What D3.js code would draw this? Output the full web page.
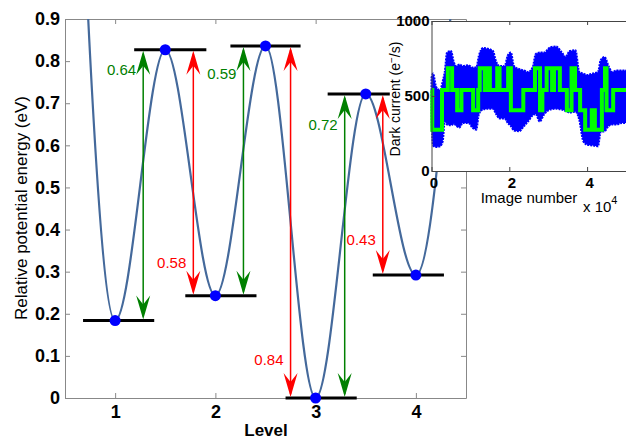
<!DOCTYPE html>
<html>
<head>
<meta charset="utf-8">
<script src="https://cdn.jsdelivr.net/npm/d3@7"></script>
<style>
body { margin: 0; background: #fff; }
svg { display: block; font-family: Arial, "Liberation Sans", sans-serif; }
</style>
</head>
<body>
<svg id="chart" width="626" height="441"></svg>
<script>
// potential profile: wells at integer levels, barriers at half levels
const profileLevel = [0.5, 1, 1.5, 2, 2.5, 3, 3.5, 4, 4.5];
const profileEnergy = [2.2, 0.184, 0.827, 0.243, 0.836, 0, 0.722, 0.292, 1.4];

// states marked with a dot and a black bar
const stateLevel = [1, 1.5, 2, 2.5, 3, 3.5, 4];
const stateEnergy = [0.184, 0.827, 0.243, 0.836, 0, 0.722, 0.292];
const barStart = [0.68, 1.19, 1.70, 2.15, 2.70, 3.12, 3.57];
const barEnd = [1.39, 1.91, 2.41, 2.85, 3.41, 3.74, 4.28];

// transitions between neighbouring states
const arrowLevel = [1.28, 1.78, 2.28, 2.75, 3.29, 3.67];
const arrowLabelEnergy = [0.78, 0.32, 0.77, 0.09, 0.65, 0.375];

const levelTicks = [1, 2, 3, 4];
const energyTicks = [0, 0.1, 0.2, 0.3, 0.4, 0.5, 0.6, 0.7, 0.8, 0.9];

// inset: telegraph signal (image number in units of 1e4)
const stepX = [0, 0.02, 0.27, 0.42, 0.53, 0.66, 0.77, 1.07, 1.20, 1.24, 1.37, 1.41, 1.50, 1.69, 1.75, 1.97, 2.04, 2.36, 2.66, 2.79,
    2.85, 2.96, 3.10, 3.15, 3.30, 3.48, 3.60, 3.69, 3.82, 3.95, 4.12, 4.20, 4.38, 4.46, 4.50, 4.67, 5.0];
const stepLevel = [540, 275, 540, 685, 540, 405, 540, 405, 540, 685, 540, 685, 540, 685, 540, 685, 405, 540, 685, 405,
    540, 685, 540, 685, 540, 405, 685, 540, 405, 275, 405, 275, 540, 685, 405, 540];

// inset: spread of the raw dark current samples
const bandX = [0, 0.04, 0.12, 0.22, 0.29, 0.34, 0.40, 0.50, 0.58, 0.64, 0.72, 0.80, 0.95, 1.05, 1.15, 1.22, 1.32, 1.45, 1.58, 1.66,
    1.75, 1.88, 1.96, 2.04, 2.12, 2.25, 2.38, 2.48, 2.60, 2.68, 2.78, 2.90, 3.05, 3.20, 3.35, 3.45, 3.55, 3.70, 3.80, 3.90,
    4.00, 4.15, 4.28, 4.35, 4.45, 4.55, 4.65, 4.75, 4.90, 5.0];
const bandLo = [360, 170, 160, 165, 200, 330, 310, 305, 315, 300, 290, 320, 320, 290, 275, 380, 410, 415, 415, 380,
    350, 350, 320, 300, 270, 265, 300, 330, 370, 380, 330, 380, 410, 415, 410, 400, 390, 395, 340, 200,
    175, 170, 165, 260, 265, 300, 310, 310, 320, 320];
const bandHi = [620, 650, 560, 540, 600, 660, 790, 800, 720, 700, 710, 700, 705, 690, 690, 770, 820, 815, 800, 730,
    700, 700, 770, 790, 700, 680, 670, 660, 690, 780, 790, 790, 825, 830, 790, 760, 800, 805, 660, 650,
    640, 650, 660, 740, 760, 700, 660, 670, 670, 670];
const insetXTicks = [0, 2, 4];
const insetYTicks = [0, 500, 1000];

const green = '#008000', red = '#ff0000';
const svg = d3.select('#chart');

// ---------- main plot ----------
const x = d3.scaleLinear().domain([0.5, 4.5]).range([65, 466]);
const y = d3.scaleLinear().domain([0, 0.9]).range([398, 19]);

svg.append('clipPath').attr('id', 'mainclip')
    .append('rect').attr('x', 65).attr('y', 19).attr('width', 401).attr('height', 379);

function styleAxis(g, color) {
    g.select('.domain').attr('stroke', color);
    g.selectAll('.tick line').attr('stroke', color);
    g.selectAll('.tick text').attr('fill', '#000')
        .attr('font-family', 'Arial, Liberation Sans, sans-serif')
        .attr('font-weight', 'bold');
}

svg.append('g').attr('transform', 'translate(0,398)')
    .call(d3.axisBottom(x).tickValues(levelTicks).tickSize(-5).tickPadding(7).tickSizeOuter(0).tickFormat(d3.format('d')))
    .call(g => styleAxis(g, '#888'))
    .selectAll('text').attr('font-size', 18);
svg.append('g').attr('transform', 'translate(0,19)')
    .call(d3.axisTop(x).tickValues(levelTicks).tickSize(-5).tickFormat('').tickSizeOuter(0))
    .call(g => styleAxis(g, '#888'));
svg.append('g').attr('transform', 'translate(65,0)')
    .call(d3.axisLeft(y).tickValues(energyTicks).tickSize(-5).tickPadding(5).tickSizeOuter(0).tickFormat(d3.format('~g')))
    .call(g => styleAxis(g, '#888'))
    .selectAll('text').attr('font-size', 18);
svg.append('g').attr('transform', 'translate(466,0)')
    .call(d3.axisRight(y).tickValues(energyTicks).tickSize(-5).tickFormat('').tickSizeOuter(0))
    .call(g => styleAxis(g, '#888'));

// potential curve
const curve = d3.line()
    .x((d, i) => x(profileLevel[i]))
    .y(d => y(d))
    .curve(d3.curveMonotoneX);
svg.append('path')
    .attr('clip-path', 'url(#mainclip)')
    .attr('d', curve(profileEnergy))
    .attr('fill', 'none')
    .attr('stroke', '#44699b')
    .attr('stroke-width', 2.2);

// state bars and dots
svg.append('g').selectAll('line')
    .data(stateEnergy)
    .join('line')
    .attr('x1', (d, i) => x(barStart[i]))
    .attr('x2', (d, i) => x(barEnd[i]))
    .attr('y1', d => y(d))
    .attr('y2', d => y(d))
    .attr('stroke', '#000')
    .attr('stroke-width', 3);
svg.append('g').selectAll('circle')
    .data(stateEnergy)
    .join('circle')
    .attr('cx', (d, i) => x(stateLevel[i]))
    .attr('cy', d => y(d))
    .attr('r', 5.5)
    .attr('fill', '#0000ff');

// double headed transition arrows
function head(px, tip, dir) {
    // dir = -1 points up, +1 points down
    const L = 24, N = 15, W = 7;
    return `M${px},${tip}L${px - W},${tip - dir * L}L${px},${tip - dir * N}L${px + W},${tip - dir * L}Z`;
}
const arrows = arrowLevel.map((lv, i) => {
    const a = stateEnergy[i], b = stateEnergy[i + 1];
    return { lv, top: Math.max(a, b), bot: Math.min(a, b), diff: Math.abs(a - b),
        color: i % 2 === 0 ? green : red, labelE: arrowLabelEnergy[i] };
});
const ag = svg.append('g').selectAll('g').data(arrows).join('g');
ag.append('line')
    .attr('x1', d => x(d.lv)).attr('x2', d => x(d.lv))
    .attr('y1', d => y(d.top) + 4).attr('y2', d => y(d.bot) - 4)
    .attr('stroke', d => d.color).attr('stroke-width', 1.5);
ag.append('path').attr('d', d => head(x(d.lv), y(d.top) + 1, -1)).attr('fill', d => d.color);
ag.append('path').attr('d', d => head(x(d.lv), y(d.bot) - 1, 1)).attr('fill', d => d.color);
ag.append('text')
    .attr('x', d => x(d.lv) - 7)
    .attr('y', d => y(d.labelE))
    .attr('dy', '0.35em')
    .attr('text-anchor', 'end')
    .attr('font-size', 15)
    .attr('fill', d => d.color)
    .text(d => d3.format('.2f')(d.diff));

svg.append('text')
    .attr('x', 266).attr('y', 436)
    .attr('text-anchor', 'middle')
    .attr('font-size', 17).attr('font-weight', 'bold')
    .text('Level');
svg.append('text')
    .attr('transform', 'translate(27,208) rotate(-90)')
    .attr('text-anchor', 'middle')
    .attr('font-size', 17)
    .text('Relative potential energy (eV)');

// ---------- inset ----------
const ix = d3.scaleLinear().domain([0, 5]).range([431.5, 626]);
const iy = d3.scaleLinear().domain([0, 1000]).range([171, 21]);
const inset = svg.append('g');
inset.append('rect').attr('x', 431.5).attr('y', 21).attr('width', 200).attr('height', 150).attr('fill', '#fff');

const band = d3.area()
    .x((d, i) => ix(bandX[i]))
    .y0((d, i) => iy(bandLo[i]))
    .y1(d => iy(d))
    .curve(d3.curveMonotoneX);
inset.append('path')
    .attr('d', band(bandHi))
    .attr('fill', '#0000ff')
    .attr('stroke', '#0000ff')
    .attr('stroke-width', 2)
    .attr('stroke-dasharray', '2 1');

const stepPts = stepX.map((v, i) => [v, stepLevel[Math.min(i, stepLevel.length - 1)]]);
inset.append('path')
    .attr('d', d3.line().x(d => ix(d[0])).y(d => iy(d[1])).curve(d3.curveStepAfter)(stepPts))
    .attr('fill', 'none')
    .attr('stroke', '#00ff00')
    .attr('stroke-width', 4);

inset.append('g').attr('transform', 'translate(0,171)')
    .call(d3.axisBottom(ix).tickValues(insetXTicks).tickSize(-4).tickPadding(6).tickSizeOuter(0).tickFormat(d3.format('d')))
    .call(g => styleAxis(g, '#444'))
    .selectAll('text').attr('font-size', 15).attr('dx', 2);
inset.append('g').attr('transform', 'translate(0,21)')
    .call(d3.axisTop(ix).tickValues(insetXTicks).tickSize(-4).tickFormat('').tickSizeOuter(0))
    .call(g => styleAxis(g, '#444'));
inset.append('g').attr('transform', 'translate(431.5,0)')
    .call(d3.axisLeft(iy).tickValues(insetYTicks).tickSize(-4).tickPadding(2).tickSizeOuter(0).tickFormat(d3.format('d')))
    .call(g => styleAxis(g, '#444'))
    .selectAll('text').attr('font-size', 15);

inset.append('text')
    .attr('x', 529).attr('y', 203)
    .attr('text-anchor', 'middle')
    .attr('font-size', 15)
    .text('Image number');
const expo = inset.append('text').attr('x', 583).attr('y', 212).attr('font-size', 15);
expo.append('tspan').text('x 10');
expo.append('tspan').attr('dy', -8).attr('font-size', 11).text('4');

const ylab = inset.append('text')
    .attr('transform', 'translate(400,99) rotate(-90)')
    .attr('text-anchor', 'middle')
    .attr('font-size', 14);
ylab.append('tspan').text('Dark current (e');
ylab.append('tspan').attr('dy', -5).attr('font-size', 10).text('−');
ylab.append('tspan').attr('dy', 5).text('/s)');
</script>
</body>
</html>
